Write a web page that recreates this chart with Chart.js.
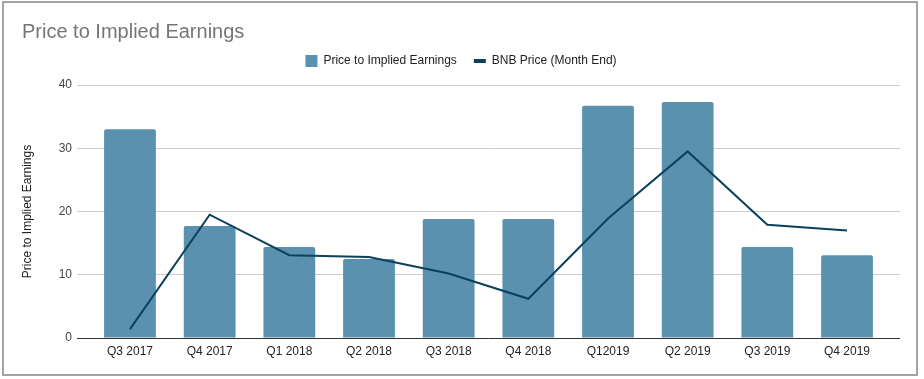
<!DOCTYPE html>
<html>
<head>
<meta charset="utf-8">
<script src="https://cdn.jsdelivr.net/npm/chart.js@4.4.1/dist/chart.umd.min.js"></script>
<style>
  html, body { margin: 0; padding: 0; background: #fff; }
  #wrap { position: relative; width: 924px; height: 379px; }
  #frame { position: absolute; left: 2px; top: 1px; width: 916px; height: 375px; box-sizing: border-box; border: 2px solid #a3a3a3; pointer-events: none; }
  canvas { position: absolute; left: 0; top: 0; }
</style>
</head>
<body>
<div id="wrap">
  <canvas id="c" width="924" height="379"></canvas>
  <div id="frame"></div>
</div>
<script>
const categories = ["Q3 2017", "Q4 2017", "Q1 2018", "Q2 2018", "Q3 2018", "Q4 2018", "Q12019", "Q2 2019", "Q3 2019", "Q4 2019"];
const priceToEarnings = [33.0, 17.7, 14.4, 12.5, 18.8, 18.8, 36.7, 37.3, 14.4, 13.1];
const bnbPrice = [1.4, 19.5, 13.1, 12.8, 10.2, 6.2, 18.9, 29.5, 17.9, 17.0];
const yTicks = [0, 10, 20, 30, 40];
const seriesNames = ["Price to Implied Earnings", "BNB Price (Month End)"];
const titleText = "Price to Implied Earnings";
const yTitle = "Price to Implied Earnings";

const FONT = "'Liberation Sans', Arial, sans-serif";
const BAR_COLOR = "#5a91af";
const LINE_COLOR = "#0b415d";

const toXY = arr => arr.map((v, i) => ({ x: i, y: v }));

new Chart(document.getElementById('c'), {
  data: {
    datasets: [
      {
        type: 'line',
        label: seriesNames[1],
        data: toXY(bnbPrice),
        borderColor: LINE_COLOR,
        backgroundColor: LINE_COLOR,
        borderWidth: 2,
        pointRadius: 0,
        pointHoverRadius: 0,
        tension: 0,
        pointStyle: 'line',
        order: 0
      },
      {
        type: 'bar',
        label: seriesNames[0],
        data: toXY(priceToEarnings),
        backgroundColor: BAR_COLOR,
        borderWidth: 0,
        borderRadius: 2,
        categoryPercentage: 1,
        barPercentage: 0.65,
        pointStyle: 'rect',
        order: 1
      }
    ]
  },
  options: {
    responsive: false,
    animation: false,
    devicePixelRatio: 1,
    layout: { padding: { left: 22, right: 24, top: 0, bottom: 0 } },
    plugins: {
      title: {
        display: true,
        text: titleText,
        align: 'start',
        color: '#757575',
        font: { family: FONT, size: 20, weight: 'normal', lineHeight: 0.6 },
        padding: { top: 26, bottom: 0 }
      },
      subtitle: {
        display: true,
        text: '',
        weight: 500,
        font: { family: FONT, size: 8, lineHeight: 1 },
        padding: 0
      },
      legend: {
        display: true,
        position: 'top',
        align: 'center',
        labels: {
          font: { family: FONT, size: 12 },
          color: '#222222',
          padding: 17,
          usePointStyle: true,
          pointStyleWidth: 12,
          sort: (a, b) => b.datasetIndex - a.datasetIndex,
          generateLabels: (chart) => {
            const items = Chart.defaults.plugins.legend.labels.generateLabels(chart);
            items.forEach(it => {
              const ds = chart.data.datasets[it.datasetIndex];
              if (ds.type === 'line') {
                it.lineWidth = 4;
                it.strokeStyle = LINE_COLOR;
                it.fillStyle = LINE_COLOR;
                it.pointStyle = 'line';
              } else {
                it.lineWidth = 0;
                it.pointStyle = 'rect';
              }
            });
            return items;
          }
        }
      },
      tooltip: { enabled: false }
    },
    scales: {
      x: {
        type: 'linear',
        offset: false,
        min: -0.665,
        max: 9.665,
        grid: { display: false, drawTicks: false, offset: false },
        border: { display: false },
        ticks: {
          stepSize: 1,
          includeBounds: false,
          autoSkip: false,
          maxRotation: 0,
          padding: 6,
          color: '#222222',
          font: { family: FONT, size: 12 },
          callback: (v) => (Number.isInteger(v) && categories[v] !== undefined) ? categories[v] : ''
        },
        afterFit: (scale) => { scale.height = 41; }
      },
      y: {
        type: 'linear',
        min: yTicks[0],
        max: yTicks[yTicks.length - 1],
        afterBuildTicks: (scale) => { scale.ticks = yTicks.map(v => ({ value: v })); },
        grid: {
          drawTicks: false,
          color: (ctx) => (ctx.tick && ctx.tick.value === 0) ? '#333333' : '#cccccc',
          lineWidth: 1
        },
        border: { display: false },
        ticks: {
          padding: 5,
          color: '#444444',
          font: { family: FONT, size: 12 }
        },
        title: {
          display: true,
          text: yTitle,
          color: '#222222',
          font: { family: FONT, size: 12, lineHeight: 1 },
          padding: 0
        },
        afterFit: (scale) => { scale.width = 55; }
      }
    }
  }
});
</script>
</body>
</html>
